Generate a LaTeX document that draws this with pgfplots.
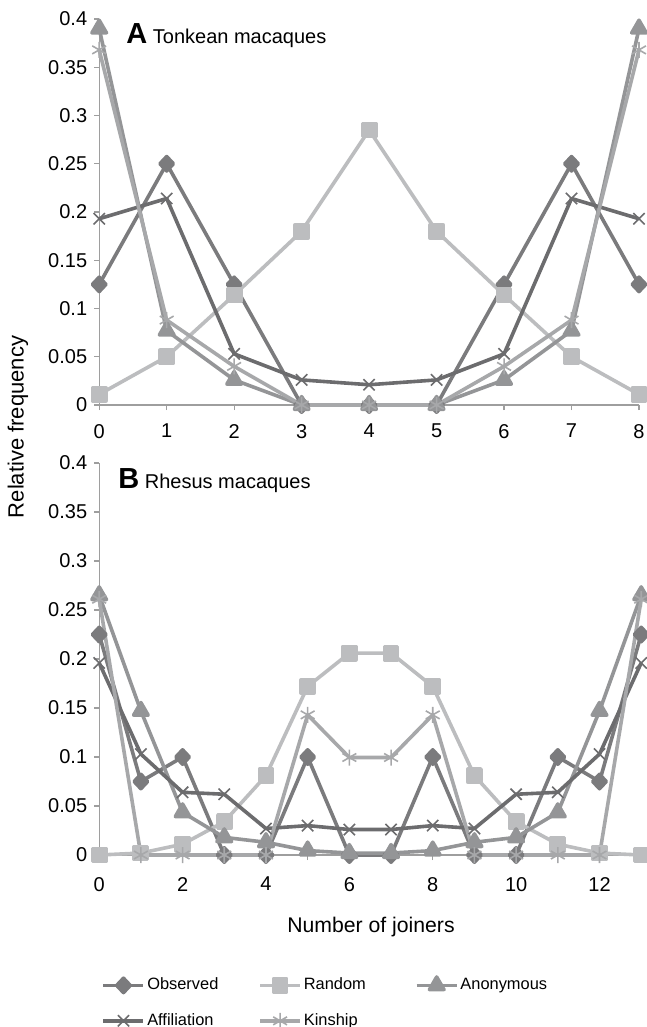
\documentclass[border=0pt]{standalone}
\usepackage{fontspec}
\setmainfont{Liberation Sans}
\usepackage{pgfplots}
\pgfplotsset{compat=1.18}
\definecolor{cObs}{HTML}{7B7B7D}
\definecolor{cRand}{HTML}{BCBDBF}
\definecolor{cAnon}{HTML}{949597}
\definecolor{cAff}{HTML}{6C6C6E}
\definecolor{cKin}{HTML}{A7A8AA}
\definecolor{axgray}{HTML}{9E9E9E}
\pgfplotsset{
  myax/.style={
    scale only axis,
    axis x line*=bottom, axis y line*=left,
    axis line style={color=axgray, line width=0.6pt},
    every tick/.style={color=axgray, line width=0.6pt},
    tick align=outside, major tick length=2.5pt,
    ymin=0, ymax=0.4,
    ytick={0,0.05,0.1,0.15,0.2,0.25,0.3,0.35,0.4},
    yticklabels={0,0.05,0.1,0.15,0.2,0.25,0.3,0.35,0.4},
    tick label style={font=\fontsize{10}{12}\selectfont, text=black},
    xticklabel style={yshift=-3.5pt},
    /pgf/number format/assume math mode=true,
    clip=false,
    every axis plot/.append style={line width=1.8pt, line join=round},
  },
  obs/.style={color=cObs, mark=diamond*, mark size=3.6pt, mark options={solid, fill=cObs, xscale=1.25}},
  rnd/.style={color=cRand, mark=square*, mark size=3.3pt, mark options={solid, fill=cRand}},
  ano/.style={color=cAnon, mark=triangle*, mark size=4.2pt, mark options={solid, fill=cAnon}},
  aff/.style={color=cAff, mark=x, mark size=4pt, mark options={solid, line width=0.8pt}},
  kin/.style={color=cKin, mark=asterisk, mark size=4pt, mark options={solid, line width=0.8pt}},
}
\begin{document}
\begin{tikzpicture}
\useasboundingbox (0,0) rectangle (323.5pt,-513.5pt);
% Panel A
\begin{axis}[myax, at={(49.6pt,-202.5pt)}, anchor=south west,
  width=269.9pt, height=193pt,
  xmin=0, xmax=8, xtick={0,1,2,3,4,5,6,7,8}]
\addplot[obs] coordinates {(0,0.125)(1,0.25)(2,0.125)(3,0)(4,0)(5,0)(6,0.125)(7,0.25)(8,0.125)};
\addplot[rnd] coordinates {(0,0.011)(1,0.05)(2,0.114)(3,0.18)(4,0.285)(5,0.18)(6,0.114)(7,0.05)(8,0.011)};
\addplot[ano] coordinates {(0,0.39)(1,0.077)(2,0.026)(3,0)(4,0)(5,0)(6,0.026)(7,0.077)(8,0.39)};
\addplot[aff] coordinates {(0,0.193)(1,0.214)(2,0.053)(3,0.026)(4,0.021)(5,0.026)(6,0.053)(7,0.214)(8,0.193)};
\addplot[kin] coordinates {(0,0.368)(1,0.088)(2,0.04)(3,0)(4,0)(5,0)(6,0.04)(7,0.088)(8,0.368)};
\node[anchor=base west, inner sep=0pt] at (axis description cs:0.0497,0.9378)
  {{\fontsize{14.5}{16}\selectfont\bfseries A} {\fontsize{10}{12}\selectfont Tonkean macaques}};
\end{axis}
% Panel B
\begin{axis}[myax, at={(49.6pt,-427.5pt)}, anchor=south west,
  width=271pt, height=196pt,
  xmin=0, xmax=13, xtick={0,1,2,3,4,5,6,7,8,9,10,11,12,13},
  xticklabels={0,,2,,4,,6,,8,,10,,12,},
  xticklabel style={yshift=-1.5pt},
  legend columns=3, legend cell align=left,
  legend image code/.code={\draw[mark repeat=2,mark phase=2] plot coordinates {(0pt,0pt)(10pt,0pt)(20pt,0pt)};},
  legend style={draw=none, fill=none, at={(0.0046,-0.3112)}, anchor=north west,
    inner sep=0pt, outer sep=0pt, column sep=0pt, row sep=10pt,
    font=\fontsize{8.2}{9.8}\selectfont, nodes={inner sep=0pt, outer sep=0pt}},
  ]
\addplot[obs] coordinates {(0,0.225)(1,0.075)(2,0.1)(3,0)(4,0)(5,0.1)(6,0)(7,0)(8,0.1)(9,0)(10,0)(11,0.1)(12,0.075)(13,0.225)};
\addlegendentry{\makebox[56.5pt][l]{\hspace{1pt}Observed}}
\addplot[rnd] coordinates {(0,0)(1,0.002)(2,0.011)(3,0.034)(4,0.081)(5,0.172)(6,0.206)(7,0.206)(8,0.172)(9,0.081)(10,0.034)(11,0.011)(12,0.002)(13,0)};
\addlegendentry{\makebox[56.5pt][l]{\hspace{1pt}Random}}
\addplot[ano] coordinates {(0,0.265)(1,0.147)(2,0.0435)(3,0.018)(4,0.013)(5,0.0045)(6,0.002)(7,0.002)(8,0.0045)(9,0.013)(10,0.018)(11,0.0435)(12,0.147)(13,0.265)};
\addlegendentry{\makebox[56.5pt][l]{\hspace{1pt}Anonymous}}
\addplot[aff] coordinates {(0,0.196)(1,0.103)(2,0.064)(3,0.062)(4,0.027)(5,0.03)(6,0.026)(7,0.026)(8,0.03)(9,0.027)(10,0.062)(11,0.064)(12,0.103)(13,0.196)};
\addlegendentry{\makebox[56.5pt][l]{\hspace{1pt}Affiliation}}
\addplot[kin] coordinates {(0,0.261)(1,0)(2,0)(3,0)(4,0)(5,0.143)(6,0.0995)(7,0.0995)(8,0.143)(9,0)(10,0)(11,0)(12,0)(13,0.261)};
\addlegendentry{\makebox[56.5pt][l]{\hspace{1pt}Kinship}}
\node[anchor=base west, inner sep=0pt] at (axis description cs:0.0347,0.936)
  {{\fontsize{14.5}{16}\selectfont\bfseries B} {\fontsize{10}{12}\selectfont Rhesus macaques}};
\end{axis}
\node[rotate=90, inner sep=0pt, font=\fontsize{11}{13}\selectfont] at (9pt,-213.5pt) {Relative frequency};
\node[inner sep=0pt, font=\fontsize{10.6}{12.7}\selectfont] at (185.5pt,-463.5pt) {Number of joiners};
\end{tikzpicture}
\end{document}
